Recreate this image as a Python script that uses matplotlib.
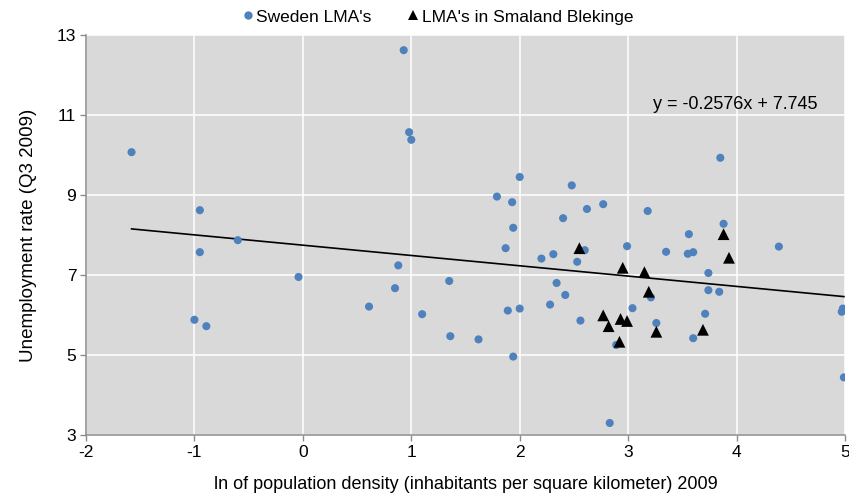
import matplotlib
matplotlib.use("Agg")
from matplotlib import pyplot as plt
from matplotlib.lines import Line2D

plt.rcParams['font.family'] = ['Liberation Sans', 'DejaVu Sans']

# all Swedish labour market areas: ln density, unemployment Q3 2009
SWE_X = [0.93, 0.98, 1.00, -1.58, -0.95, -0.95, -0.60, -0.04, 0.88, 0.85,
         0.61, 1.10, -1.00, -0.89, 3.85, 2.00, 2.48, 1.79, 1.93, 2.62,
         2.77, 2.40, 3.18, 1.94, 3.88, 3.56, 4.39, 1.87, 2.60, 2.99,
         3.35, 3.55, 3.60, 2.20, 2.31, 2.53, 3.74, 1.35, 2.34, 3.21,
         2.42, 3.74, 3.84, 1.89, 2.00, 2.28, 3.04, 2.56, 3.71, 4.98,
         4.97, 3.26, 2.89, 3.60, 1.36, 1.62, 1.94, 4.99, 2.83]
SWE_Y = [12.62, 10.57, 10.38, 10.07, 8.62, 7.57, 7.87, 6.95, 7.24, 6.67,
         6.21, 6.02, 5.88, 5.72, 9.93, 9.45, 9.24, 8.96, 8.82, 8.65,
         8.77, 8.42, 8.60, 8.18, 8.28, 8.02, 7.71, 7.67, 7.62, 7.72,
         7.58, 7.53, 7.57, 7.41, 7.52, 7.33, 7.05, 6.85, 6.80, 6.44,
         6.50, 6.62, 6.58, 6.11, 6.16, 6.26, 6.17, 5.86, 6.03, 6.16,
         6.08, 5.80, 5.25, 5.42, 5.47, 5.39, 4.96, 4.44, 3.30]

# the subset in Smaland and Blekinge
SB_X = [2.55, 2.95, 3.15, 3.19, 3.88, 3.93, 2.77, 2.82, 2.93, 2.99,
        2.92, 3.26, 3.69]
SB_Y = [7.67, 7.18, 7.07, 6.58, 8.02, 7.43, 5.99, 5.72, 5.90, 5.85,
        5.33, 5.58, 5.63]

# linear trend over all areas
SLOPE = -0.2576
INTERCEPT = 7.745

XTICKS = list(range(-2, 6))
YTICKS = [3, 5, 7, 9, 11, 13]

fig = plt.figure(figsize=(8.49, 4.99), dpi=100)
ax = fig.add_axes([0.1013, 0.1283, 0.894, 0.8016])
ax.set_facecolor('#D9D9D9')

ax.scatter(SWE_X, SWE_Y, s=34, color='#4F81BD', edgecolors='none', zorder=3)
ax.scatter(SB_X, SB_Y, s=72, marker='^', color='black', edgecolors='none', zorder=4)

x0, x1 = min(SWE_X), max(SWE_X)
ax.plot([x0, x1], [SLOPE * x0 + INTERCEPT, SLOPE * x1 + INTERCEPT],
        color='black', lw=1.2, zorder=2)
ax.text(3.225, 11.27, 'y = -0.2576x + 7.745', fontsize=13, ha='left', va='center')

ax.set_xlim(-2, 5)
ax.set_ylim(3, 13)
ax.set_xticks(XTICKS)
ax.set_yticks(YTICKS)
ax.set_xticklabels(['-2', '-1', '0', '1', '2', '3', '4', '5'])
ax.grid(True, color='white', lw=1.1, zorder=0)
ax.set_axisbelow(True)

for side in ['top', 'right']:
    ax.spines[side].set_visible(False)
for side in ['left', 'bottom']:
    ax.spines[side].set_color('#8C8C8C')
    ax.spines[side].set_linewidth(1.1)
ax.tick_params(axis='both', direction='out', length=4, width=1, color='#8C8C8C',
               labelsize=12.5, pad=3)

ax.set_xlabel('ln of population density (inhabitants per square kilometer) 2009',
              fontsize=13, labelpad=12)
ax.set_ylabel('Unemployment rate (Q3 2009)', fontsize=13.5, labelpad=14)

handles = [
    Line2D([], [], marker='o', ls='none', color='#4F81BD', markersize=6,
           markeredgewidth=0, label="Sweden LMA's"),
    Line2D([], [], marker='^', ls='none', color='black', markersize=6.5,
           markeredgewidth=0, label="LMA's in Smaland Blekinge"),
]
fig.legend(handles=handles, loc='center', bbox_to_anchor=(0.515, 0.966), ncol=2,
           frameon=False, fontsize=12.5, handletextpad=0.1, columnspacing=2.0,
           handlelength=0.8)

fig.savefig('out.png', dpi=100)
